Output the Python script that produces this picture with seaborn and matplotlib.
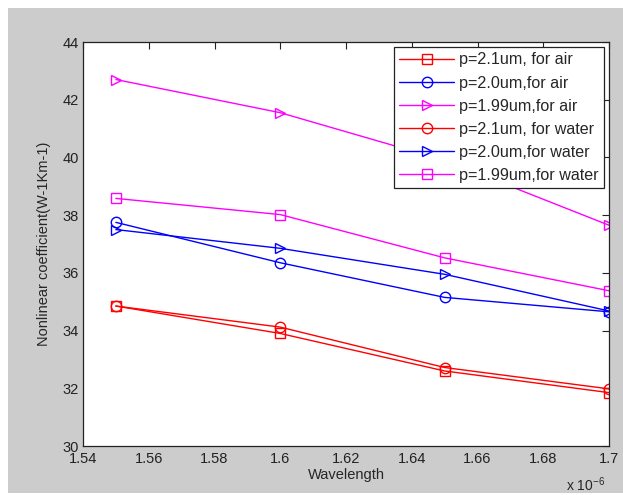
import matplotlib
matplotlib.use("Agg")
import matplotlib.pyplot as plt
import matplotlib.patches as mpatches
from matplotlib.ticker import FuncFormatter, MultipleLocator
import seaborn as sns
import pandas as pd

# Wavelength samples (m)
wavelength = [1.55e-6, 1.60e-6, 1.65e-6, 1.70e-6]

# Nonlinear coefficient (W^-1 km^-1) per pitch / medium
p21_air = [34.85, 33.90, 32.60, 31.85]
p20_air = [37.75, 36.35, 35.15, 34.65]
p199_air = [42.70, 41.55, 39.90, 37.65]
p21_water = [34.85, 34.12, 32.72, 31.98]
p20_water = [37.50, 36.85, 35.95, 34.68]
p199_water = [38.58, 38.02, 36.52, 35.38]

labels = [
    "p=2.1um, for air",
    "p=2.0um,for air",
    "p=1.99um,for air",
    "p=2.1um, for water",
    "p=2.0um,for water",
    "p=1.99um,for water",
]
series = [p21_air, p20_air, p199_air, p21_water, p20_water, p199_water]
colors = ["#ff0000", "#0000ff", "#ff00ff", "#ff0000", "#0000ff", "#ff00ff"]
markers = ["s", "o", ">", "o", ">", "s"]

sns.set_style("white")
plt.rcParams["font.family"] = ["Liberation Sans", "DejaVu Sans"]
plt.rcParams["mathtext.fontset"] = "custom"
plt.rcParams["mathtext.rm"] = "Liberation Sans"

fig = plt.figure(figsize=(6.23, 4.95), dpi=100, facecolor="white")
# grey figure panel
fig.patches.append(mpatches.Rectangle((8 / 623, 2 / 495), 1 - 8 / 623, 1 - 10 / 495,
                                      transform=fig.transFigure, facecolor="#cccccc",
                                      edgecolor="none", zorder=-10))
ax = fig.add_axes([83 / 623, 1 - 446 / 495, (609 - 83) / 623, (446 - 42) / 495])
ax.set_facecolor("white")

for vals, lab, col, mk in zip(series, labels, colors, markers):
    df = pd.DataFrame({"Wavelength": wavelength, "gamma": vals})
    sns.lineplot(data=df, x="Wavelength", y="gamma", ax=ax, color=col, marker=mk,
                 markersize=7.5, markerfacecolor="none", markeredgecolor=col,
                 markeredgewidth=1.0, linewidth=1.0, label=lab)

ax.set_xlim(1.54e-6, 1.70e-6)
ax.set_ylim(30, 44)
ax.xaxis.set_major_locator(MultipleLocator(0.02e-6))
ax.yaxis.set_major_locator(MultipleLocator(2))
ax.xaxis.set_major_formatter(FuncFormatter(lambda v, p: "%g" % round(v * 1e6, 4)))
ax.yaxis.set_major_formatter(FuncFormatter(lambda v, p: "%d" % v))

ax.tick_params(direction="in", length=5, width=0.8, top=True, right=True,
               labelsize=10.5, colors="#222222", pad=3)
ax.tick_params(axis="x", pad=4.5)
for s in ax.spines.values():
    s.set_visible(True)
    s.set_color("#222222")
    s.set_linewidth(0.9)

ax.set_xlabel("Wavelength", fontsize=10.5, labelpad=1)
ax.set_ylabel("Nonlinear coefficient(W-1Km-1)", fontsize=10.5, labelpad=8)
fig.text(566 / 623, 1 - 491 / 495, r"x 10$^{-6}$", fontsize=10, ha="left", va="baseline")

leg = ax.legend(loc="upper right", fontsize=11.6, frameon=True, fancybox=False,
                framealpha=1.0, edgecolor="#222222", handlelength=3.4,
                handletextpad=0.3, borderpad=0.35, labelspacing=0.5,
                borderaxespad=0.3)
leg.get_frame().set_linewidth(0.9)

fig.savefig("out.png", dpi=100, facecolor=fig.get_facecolor())
